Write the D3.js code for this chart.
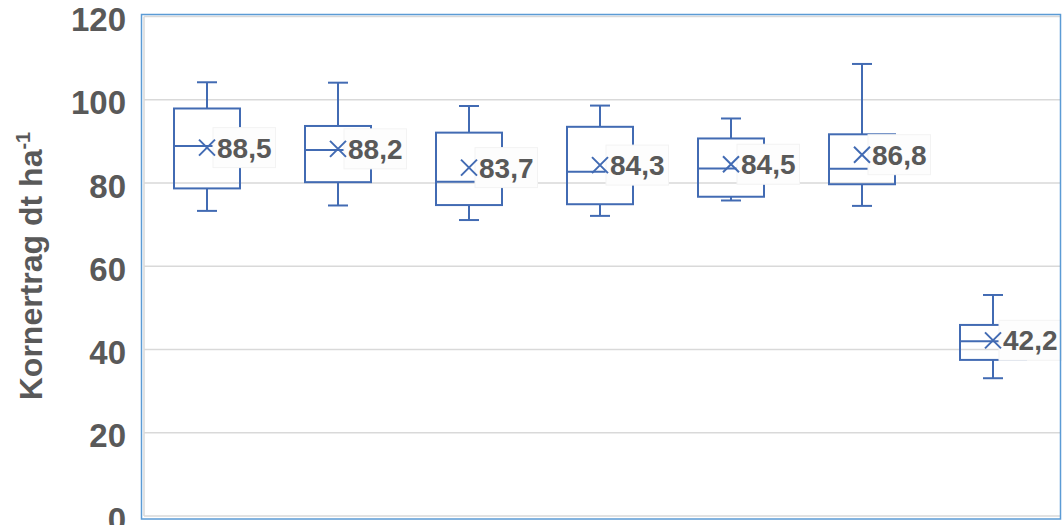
<!DOCTYPE html>
<html><head><meta charset="utf-8">
<script src="https://cdn.jsdelivr.net/npm/d3@7"></script>
<style>html,body{margin:0;padding:0;background:#fff;}svg{display:block;}</style>
</head><body>
<svg id="chart" width="1063" height="525"></svg>
<script>
const categories = ["A", "B", "C", "D", "E", "F", "G"];
const whiskerLow  = [73.3, 74.6, 71.1, 72.1, 75.8, 74.5, 33.1];
const q1          = [78.7, 80.2, 74.7, 74.9, 76.7, 79.7, 37.5];
const median      = [88.9, 87.9, 80.3, 82.7, 83.5, 83.4, 42.0];
const q3          = [97.9, 93.7, 92.1, 93.5, 90.7, 91.7, 45.9];
const whiskerHigh = [104.2, 104.1, 98.5, 98.6, 95.5, 108.6, 53.1];
const means       = [88.5, 88.2, 83.7, 84.3, 84.5, 86.8, 42.2];
const yTicks      = [0, 20, 40, 60, 80, 100, 120];
const yTitle      = "Kornertrag dt ha";
const yTitleSup   = "-1";

const svg = d3.select("#chart");
const font = "'Liberation Sans', Arial, sans-serif";
const textColor = "#595959";
const boxColor = "#426BB3";

const x = d3.scaleBand().domain(categories).range([141.5, 1058.5]).paddingInner(0).paddingOuter(0);
const y = d3.scaleLinear().domain([0, 120]).range([516, 16.5]);

const data = categories.map((c, i) => ({
  c, lo: whiskerLow[i], q1: q1[i], med: median[i], q3: q3[i], hi: whiskerHigh[i], mean: means[i]
}));

// gridlines
svg.append("g").selectAll("line").data(yTicks).join("line")
  .attr("x1", 144).attr("x2", 1060)
  .attr("y1", d => y(d)).attr("y2", d => y(d))
  .attr("stroke", "#D9D9D9").attr("stroke-width", 1.5);

// plot area border (gray)
svg.append("line").attr("x1", 144).attr("x2", 144).attr("y1", y(120)).attr("y2", y(0))
  .attr("stroke", "#D9D9D9").attr("stroke-width", 1.5);

// y axis tick labels
const yAxis = d3.axisLeft(y).tickValues(yTicks).tickSize(0).tickPadding(0).tickFormat(d3.format("d"));
const ya = svg.append("g").attr("transform", "translate(126,0)").call(yAxis);
ya.select(".domain").remove();
ya.selectAll("text")
  .attr("font-family", font).attr("font-weight", "bold").attr("font-size", 33)
  .attr("fill", textColor).attr("dy", 14).attr("text-anchor", "end");

// axis title
const title = svg.append("text")
  .attr("transform", "translate(42,266) rotate(-90)")
  .attr("text-anchor", "middle")
  .attr("font-family", font).attr("font-weight", "bold").attr("font-size", 32)
  .attr("fill", textColor);
title.append("tspan").text(yTitle);
title.append("tspan").attr("font-size", 20).attr("dy", -12).text(yTitleSup);

const bw = 66, cap = 10;
const cx = d => x(d.c) + x.bandwidth() / 2;

const g = svg.append("g").attr("fill", "none").attr("stroke", boxColor).attr("stroke-width", 2);
// whiskers
g.selectAll(".wu").data(data).join("line").attr("class", "wu")
  .attr("x1", cx).attr("x2", cx).attr("y1", d => y(d.q3)).attr("y2", d => y(d.hi));
g.selectAll(".wl").data(data).join("line").attr("class", "wl")
  .attr("x1", cx).attr("x2", cx).attr("y1", d => y(d.q1)).attr("y2", d => y(d.lo));
g.selectAll(".cu").data(data).join("line").attr("class", "cu")
  .attr("x1", d => cx(d) - cap).attr("x2", d => cx(d) + cap).attr("y1", d => y(d.hi)).attr("y2", d => y(d.hi));
g.selectAll(".cl").data(data).join("line").attr("class", "cl")
  .attr("x1", d => cx(d) - cap).attr("x2", d => cx(d) + cap).attr("y1", d => y(d.lo)).attr("y2", d => y(d.lo));
// boxes
g.selectAll(".bx").data(data).join("rect").attr("class", "bx")
  .attr("x", d => cx(d) - bw / 2).attr("width", bw)
  .attr("y", d => y(d.q3)).attr("height", d => y(d.q1) - y(d.q3));
// medians
g.selectAll(".md").data(data).join("line").attr("class", "md")
  .attr("x1", d => cx(d) - bw / 2).attr("x2", d => cx(d) + bw / 2)
  .attr("y1", d => y(d.med)).attr("y2", d => y(d.med));

// label backgrounds
const fmt = v => d3.format(".1f")(v).replace(".", ",");
const bgG = svg.append("g");
const bgs = bgG.selectAll("rect").data(data).join("rect")
  .attr("fill", "#FDFDFD").attr("stroke", "#F3F3F3").attr("stroke-width", 1);
// mean markers
const mk = svg.append("g").attr("stroke", boxColor).attr("stroke-width", 2);
mk.selectAll("path").data(data).join("path")
  .attr("d", d => { const X = cx(d), Y = y(d.mean), s = 8; return `M${X-s},${Y-s}L${X+s},${Y+s}M${X-s},${Y+s}L${X+s},${Y-s}`; });
// label texts
const tg = svg.append("g");
const txt = tg.selectAll("text").data(data).join("text")
  .attr("x", d => cx(d) + 10).attr("y", d => y(d.mean) + 10)
  .attr("font-family", font).attr("font-weight", "bold").attr("font-size", 28)
  .attr("fill", textColor).text(d => fmt(d.mean));
const widths = txt.nodes().map(n => n.getComputedTextLength());
bgs.attr("x", d => cx(d) + 6).attr("width", (d, i) => widths[i] + 8)
  .attr("y", d => y(d.mean) - 20).attr("height", 40);

// outer chart border (blue)
svg.append("rect").attr("x", 141.5).attr("y", 14.5).attr("width", 919).attr("height", 504.5)
  .attr("fill", "none").attr("stroke", "#5B9BD5").attr("stroke-width", 1.5);
</script>
</body></html>
